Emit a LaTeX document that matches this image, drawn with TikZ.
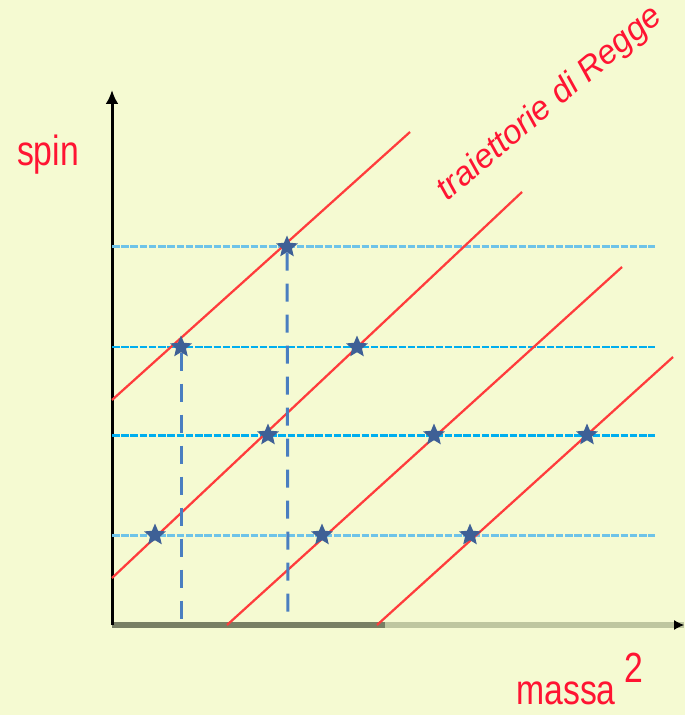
\documentclass[tikz,border=0pt]{standalone}
\usepackage{fontspec}
\setmainfont{Liberation Sans}
\usetikzlibrary{shapes.geometric,arrows.meta}
\definecolor{sfondo}{RGB}{245,250,210}
\definecolor{rosso}{RGB}{255,20,50}
\definecolor{linrosso}{RGB}{255,60,60}
\definecolor{ciano}{RGB}{0,174,239}
\definecolor{celeste}{RGB}{110,195,232}
\definecolor{blu}{RGB}{74,126,192}
\definecolor{stella}{RGB}{62,96,150}
\definecolor{grigio}{RGB}{120,127,100}
\definecolor{grigiochiaro}{RGB}{190,198,160}
\tikzset{
  traiettoria/.style={linrosso, line width=0.045cm},
  livello/.style={ciano, line width=0.06cm, dash pattern=on 0.15cm off 0.035cm},
  livellochiaro/.style={celeste, line width=0.06cm, dash pattern=on 0.15cm off 0.035cm},
  proiezione/.style={blu, line width=0.06cm, dash pattern=on 0.36cm off 0.26cm},
  stato/.style={star, star points=5, star point ratio=2.2, fill=stella, inner sep=0pt, minimum size=0.46cm},
  etichetta/.style={text=rosso, font=\fontsize{24}{28}\selectfont, xscale=0.8}
}
\begin{document}
\begin{tikzpicture}[x=0.02cm, y=-0.02cm]
  \fill[sfondo] (0,0) rectangle (685,715);
  \useasboundingbox (0,0) rectangle (685,715);
  % assi
  \coordinate (origine) at (112,625);
  \coordinate (cima) at (112,90);
  \coordinate (fine) at (684,625);
  \draw[grigiochiaro, line width=0.12cm] (origine) -- (fine);
  \draw[grigio, line width=0.12cm] (origine) -- (385,625);
  \draw[black, line width=0.02cm, -{Latex[length=0.2cm, width=0.2cm]}] (675,625) -- (fine);
  \draw[black, line width=0.06cm, -{Latex[length=0.28cm, width=0.26cm]}] (origine) -- (cima);
  % livelli di spin
  \draw[livellochiaro] (112,247) -- (655,247);
  \draw[livello] (112,347) -- (655,347);
  \draw[livello] (112,435) -- (655,435);
  \draw[livellochiaro] (112,535) -- (655,535);
  % traiettorie
  \draw[traiettoria] (112,400) -- (410,132);
  \draw[traiettoria] (112,578) -- (522,192);
  \draw[traiettoria] (227,625) -- (622,267);
  \draw[traiettoria] (377,625) -- (673,357);
  % stati
  \node[stato] (s11) at (155,535) {};
  \node[stato] (s12) at (322,535) {};
  \node[stato] (s13) at (470,535) {};
  \node[stato] (s21) at (268,435) {};
  \node[stato] (s22) at (434,435) {};
  \node[stato] (s23) at (587,435) {};
  \node[stato] (s31) at (181,347) {};
  \node[stato] (s32) at (357,347) {};
  \node[stato] (s41) at (287,247) {};
  % proiezioni sull'asse
  \draw[proiezione] (s31) -- (s31 |- origine);
  \draw[proiezione] (s41) -- (288,617);
  % etichette
  \node[etichetta] (spin) at (48,155) {spin};
  \node[etichetta] (massa) at (566,693) {massa};
  \node[etichetta] (esp) at (634,668) {2};
  \node[text=rosso, font=\fontsize{19}{22}\selectfont\itshape, rotate=40] (regge) at (550,104) {traiettorie di Regge};
\end{tikzpicture}
\end{document}
